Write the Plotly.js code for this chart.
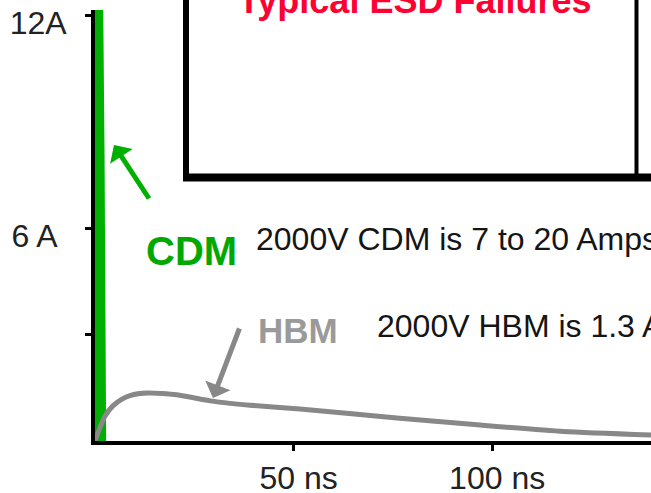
<!DOCTYPE html>
<html><head><meta charset="utf-8">
<script src="https://cdn.plot.ly/plotly-3.0.1.min.js"></script>
<style>html,body{margin:0;padding:0;background:#fff;}#chart{width:651px;height:493px;}</style>
</head><body><div id="chart"></div>
<script>
// HBM (Human Body Model) current waveform, 2000V
const hbmTimeNs   = [0, 1.3, 2.5, 4.5, 6.8, 8.8, 13.1, 20.6, 29, 34, 39, 51.6, 76, 97, 118, 140];
const hbmCurrentA = [0, 0.39, 0.70, 0.99, 1.18, 1.28, 1.35, 1.30, 1.13, 1.06, 1.01, 0.90, 0.65, 0.45, 0.27, 0.17];
// CDM (Charged Device Model) current waveform, 2000V
const cdmTimeNs   = [0.3, 0.6, 1.0, 1.4, 1.8];
const cdmCurrentA = [0, 8, 13, 8, 0];
// axes
const xTickVals = [50, 100];
const xTickText = ['50 ns', '100 ns'];
const yTickVals = [3, 6, 12];
const yTickText = ['', '6 A\u00a0', '12A'];
// texts
const titleText = 'Typical ESD Failures';
const cdmLabel = 'CDM';
const hbmLabel = 'HBM';
const cdmNote = '2000V CDM is 7 to 20 Amps';
const hbmNote = '2000V HBM is 1.3 Amps';

const GREEN = '#00b000';
const GRAY = '#888888';
const FONT = 'Liberation Sans, Arial, sans-serif';

// pixel -> paper helpers for decorations (plot area: x 95..651, y 10..441)
const PL = 95, PW = 556, PB = 441, PH = 431;
const px = v => (v - PL) / PW;
const py = v => (PB - v) / PH;

const traces = [
  {x: cdmTimeNs, y: cdmCurrentA, type: 'scatter', mode: 'lines',
   line: {color: GREEN, width: 8}, hoverinfo: 'skip'},
  {x: hbmTimeNs, y: hbmCurrentA, type: 'scatter', mode: 'lines',
   line: {color: GRAY, width: 5, shape: 'spline', smoothing: 0.6}, hoverinfo: 'skip'}
];

const layout = {
  width: 651, height: 493,
  margin: {l: PL, r: 0, t: 10, b: 52, pad: 0},
  paper_bgcolor: '#ffffff', plot_bgcolor: '#ffffff',
  showlegend: false,
  font: {family: FONT, color: '#222'},
  xaxis: {range: [0, 140], showgrid: false, zeroline: false,
    showline: true, linecolor: '#000', linewidth: 4,
    ticks: 'outside', ticklen: 6, tickwidth: 3, tickcolor: '#000',
    tickvals: xTickVals, ticktext: xTickText,
    tickfont: {family: FONT, size: 32, color: '#222'},
    ticklabelstandoff: 0, ticklabelshift: 5, layer: 'below traces'},
  yaxis: {range: [0, PH / 35.5], showgrid: false, zeroline: false,
    showline: true, linecolor: '#000', linewidth: 4,
    ticks: 'outside', ticklen: 6, tickwidth: 3, tickcolor: '#000',
    tickvals: yTickVals, ticktext: yTickText,
    tickfont: {family: FONT, size: 32, color: '#222'},
    ticklabelstandoff: 12, ticklabelshift: 8, layer: 'below traces'},
  shapes: [
    {type: 'line', xref: 'paper', yref: 'paper', x0: px(186), x1: px(186), y0: py(177), y1: py(-20), line: {color: '#000', width: 6}},
    {type: 'line', xref: 'paper', yref: 'paper', x0: px(636.5), x1: px(636.5), y0: py(177), y1: py(-20), line: {color: '#000', width: 4}},
    {type: 'line', xref: 'paper', yref: 'paper', x0: px(183), x1: px(660), y0: py(177.5), y1: py(177.5), line: {color: '#000', width: 8}}
  ],
  annotations: [
    {text: '<b>' + titleText + '</b>', xref: 'paper', yref: 'paper', x: px(414), y: py(1),
     xanchor: 'center', yanchor: 'middle', showarrow: false, font: {family: FONT, size: 36, color: '#ff0033'}},
    {text: '<b>' + cdmLabel + '</b>', xref: 'paper', yref: 'paper', x: px(144), y: py(251),
     xanchor: 'left', yanchor: 'middle', showarrow: false, font: {family: FONT, size: 40, color: '#00a800'}},
    {text: '<b>' + hbmLabel + '</b>', xref: 'paper', yref: 'paper', x: px(256), y: py(330),
     xanchor: 'left', yanchor: 'middle', showarrow: false, font: {family: FONT, size: 35, color: '#9a9a9a'}},
    {text: cdmNote, xref: 'paper', yref: 'paper', x: px(254), y: py(239),
     xanchor: 'left', yanchor: 'middle', showarrow: false, font: {family: FONT, size: 32, color: '#151515'}},
    {text: hbmNote, xref: 'paper', yref: 'paper', x: px(375), y: py(326),
     xanchor: 'left', yanchor: 'middle', showarrow: false, font: {family: FONT, size: 32, color: '#151515'}},
    // arrows
    {text: '', xref: 'paper', yref: 'paper', x: px(114), y: py(145), ax: 36, ay: 55,
     showarrow: true, arrowhead: 1, arrowsize: 0.9, arrowwidth: 5, arrowcolor: GREEN},
    {text: '', xref: 'paper', yref: 'paper', x: px(213), y: py(398), ax: 27, ay: -71,
     showarrow: true, arrowhead: 1, arrowsize: 0.9, arrowwidth: 5, arrowcolor: GRAY}
  ]
};

Plotly.newPlot('chart', traces, layout, {staticPlot: true, displayModeBar: false});
</script>
</body></html>
